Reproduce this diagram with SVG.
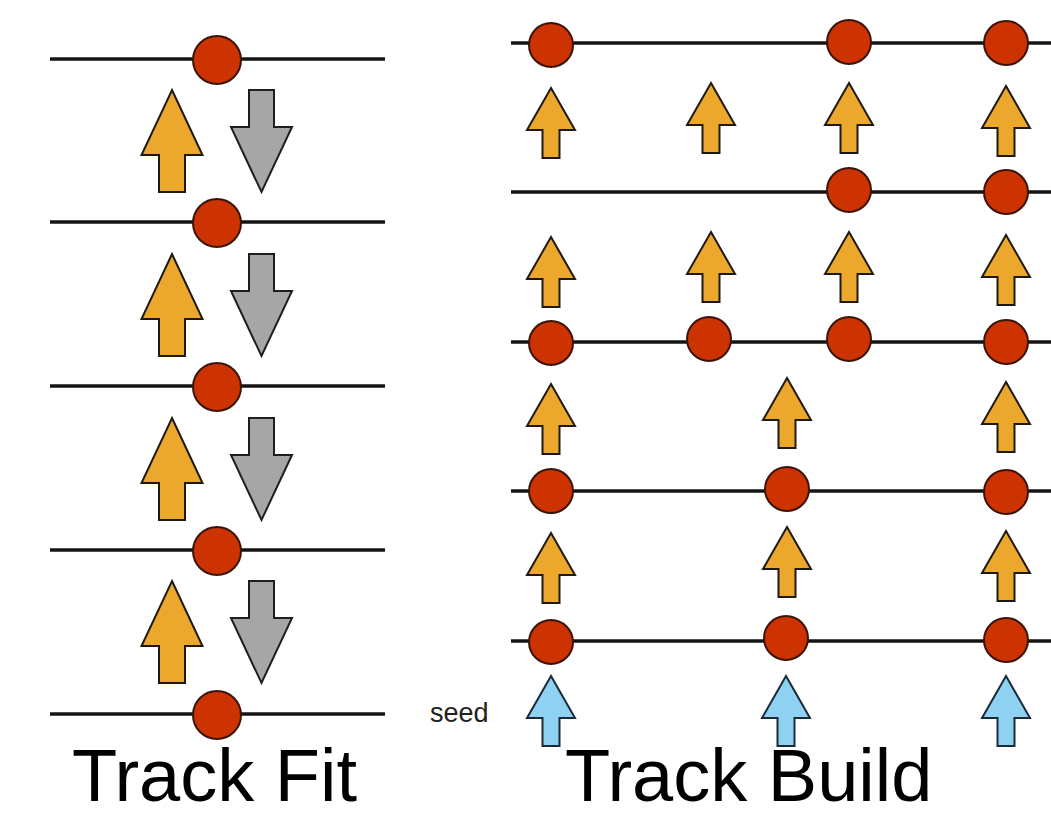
<svg xmlns="http://www.w3.org/2000/svg" xmlns:xlink="http://www.w3.org/1999/xlink" width="1051" height="817" viewBox="0 0 1051 817">
<style>
.layer{stroke:#141414;stroke-width:3.5;fill:none}
.hit{fill:#CC3300;stroke:#3a140a;stroke-width:2}
.up{fill:#EBA82C;stroke:#1e1a12;stroke-width:2;stroke-linejoin:miter}
.down{fill:#A6A6A6;stroke:#1e1e1e;stroke-width:2}
.seedArrow{fill:#8ED1F2;stroke:#1a2a38;stroke-width:2}
.title{font-family:"Liberation Sans",Arial,sans-serif;font-size:74px;fill:#000}
.small{font-family:"Liberation Sans",Arial,sans-serif;font-size:27px;fill:#222}
</style>
<defs>
<polygon id="bigUp" points="0,0 30.5,65 13,65 13,102 -13,102 -13,65 -30.5,65"/>
<polygon id="bigDown" points="-12.5,0 12.5,0 12.5,37 30.5,37 0,102 -30.5,37 -12.5,37"/>
<polygon id="smallUp" points="0,0 24,42 8.5,42 8.5,70 -8.5,70 -8.5,42 -24,42"/>
</defs>
<rect width="1051" height="817" fill="#ffffff"/>

<g id="connectors">
<line class="layer" x1="50" y1="59" x2="385" y2="59"/>
<line class="layer" x1="50" y1="222" x2="385" y2="222"/>
<line class="layer" x1="50" y1="386" x2="385" y2="386"/>
<line class="layer" x1="50" y1="550" x2="385" y2="550"/>
<line class="layer" x1="50" y1="714" x2="385" y2="714"/>
<line class="layer" x1="511" y1="43" x2="1051" y2="43"/>
<line class="layer" x1="511" y1="192" x2="1051" y2="192"/>
<line class="layer" x1="511" y1="342" x2="1051" y2="342"/>
<line class="layer" x1="511" y1="491" x2="1051" y2="491"/>
<line class="layer" x1="511" y1="641" x2="1051" y2="641"/>
</g>

<g id="fit-hits">
<circle class="hit" cx="217" cy="60" r="24"/>
<circle class="hit" cx="217" cy="223" r="24"/>
<circle class="hit" cx="217" cy="387" r="24"/>
<circle class="hit" cx="217" cy="551" r="24"/>
<circle class="hit" cx="217" cy="715" r="24"/>
</g>
<g id="fit-arrows">
<use href="#bigUp" class="up" x="172" y="90"/>
<use href="#bigDown" class="down" x="261.5" y="90"/>
<use href="#bigUp" class="up" x="172" y="254"/>
<use href="#bigDown" class="down" x="261.5" y="254"/>
<use href="#bigUp" class="up" x="172" y="418"/>
<use href="#bigDown" class="down" x="261.5" y="418"/>
<use href="#bigUp" class="up" x="172" y="581"/>
<use href="#bigDown" class="down" x="261.5" y="581"/>
</g>

<g id="build-hits">
<circle class="hit" cx="551" cy="45" r="22"/>
<circle class="hit" cx="849" cy="42" r="22"/>
<circle class="hit" cx="1006" cy="43" r="22"/>
<circle class="hit" cx="849" cy="190" r="22"/>
<circle class="hit" cx="1006" cy="192" r="22"/>
<circle class="hit" cx="551" cy="343" r="22"/>
<circle class="hit" cx="709" cy="339" r="22"/>
<circle class="hit" cx="849" cy="339" r="22"/>
<circle class="hit" cx="1006" cy="342" r="22"/>
<circle class="hit" cx="551" cy="491" r="22"/>
<circle class="hit" cx="787" cy="489" r="22"/>
<circle class="hit" cx="1006" cy="492" r="22"/>
<circle class="hit" cx="551" cy="642" r="22"/>
<circle class="hit" cx="786" cy="638" r="22"/>
<circle class="hit" cx="1006" cy="640" r="22"/>
</g>
<g id="build-arrows">
<use href="#smallUp" class="up" x="551" y="88"/>
<use href="#smallUp" class="up" x="711" y="83"/>
<use href="#smallUp" class="up" x="849" y="83"/>
<use href="#smallUp" class="up" x="1006" y="86"/>
<use href="#smallUp" class="up" x="551" y="237"/>
<use href="#smallUp" class="up" x="711" y="232"/>
<use href="#smallUp" class="up" x="849" y="232"/>
<use href="#smallUp" class="up" x="1006" y="235"/>
<use href="#smallUp" class="up" x="551" y="384"/>
<use href="#smallUp" class="up" x="787" y="378"/>
<use href="#smallUp" class="up" x="1006" y="382"/>
<use href="#smallUp" class="up" x="551" y="533"/>
<use href="#smallUp" class="up" x="787" y="527"/>
<use href="#smallUp" class="up" x="1006" y="531"/>
</g>
<g id="seeds">
<use href="#smallUp" class="seedArrow" x="551" y="676"/>
<use href="#smallUp" class="seedArrow" x="786" y="676"/>
<use href="#smallUp" class="seedArrow" x="1006" y="676"/>
<text class="small" x="430" y="722">seed</text>
</g>

<g id="labels">
<text class="title" x="72" y="801">Track Fit</text>
<text class="title" x="565" y="801">Track Build</text>
</g>
</svg>
